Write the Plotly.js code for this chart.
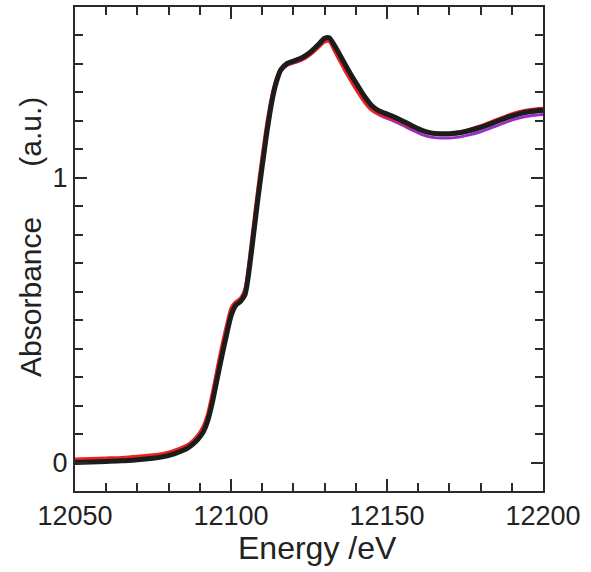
<!DOCTYPE html>
<html>
<head>
<meta charset="utf-8">
<script src="https://cdn.plot.ly/plotly-3.0.1.min.js"></script>
<style>html,body{margin:0;padding:0;background:#fff;}#chart{width:591px;height:572px;}</style>
</head>
<body>
<div id="chart"></div>
<script>
const energy = [12050,12055,12060,12065,12070,12075,12078,12081,12084,12086,12088,12089.5,12091,12092.5,12094,12095.5,12097,12098.5,12100,12101.5,12103,12104.5,12105.5,12106.5,12107.5,12108.5,12109.5,12110.5,12111.5,12112.5,12113.5,12114.5,12116,12118,12120,12122,12124,12126,12128,12130,12131.5,12133,12135,12137,12139,12141,12143,12145,12147,12149,12152,12155,12158,12161,12164,12167,12170,12173,12176,12180,12184,12188,12192,12196,12200];

const absPurple = [0.003,0.005,0.007,0.009,0.013,0.018,0.023,0.031,0.043,0.053,0.069,0.086,0.109,0.149,0.215,0.295,0.375,0.450,0.519,0.554,0.566,0.593,0.654,0.740,0.830,0.920,1.004,1.083,1.161,1.230,1.288,1.332,1.374,1.395,1.403,1.411,1.423,1.440,1.461,1.484,1.486,1.460,1.421,1.380,1.341,1.305,1.271,1.242,1.224,1.213,1.200,1.185,1.168,1.153,1.143,1.140,1.140,1.143,1.150,1.162,1.178,1.195,1.209,1.218,1.222];

const absBlue = [0.003,0.005,0.007,0.009,0.013,0.018,0.023,0.031,0.043,0.053,0.069,0.086,0.109,0.149,0.215,0.295,0.375,0.450,0.519,0.554,0.567,0.593,0.654,0.741,0.831,0.921,1.006,1.086,1.165,1.235,1.293,1.337,1.380,1.401,1.409,1.417,1.429,1.446,1.467,1.489,1.490,1.466,1.428,1.388,1.350,1.315,1.281,1.253,1.236,1.226,1.213,1.198,1.181,1.166,1.156,1.153,1.153,1.156,1.163,1.175,1.191,1.208,1.222,1.231,1.235];

const absGreen = [0.008,0.010,0.012,0.014,0.018,0.023,0.028,0.036,0.048,0.058,0.074,0.092,0.116,0.158,0.226,0.306,0.386,0.460,0.528,0.558,0.570,0.600,0.664,0.752,0.842,0.932,1.016,1.096,1.173,1.241,1.298,1.340,1.382,1.401,1.408,1.416,1.428,1.445,1.466,1.488,1.489,1.465,1.427,1.386,1.348,1.313,1.279,1.251,1.235,1.225,1.212,1.197,1.180,1.165,1.155,1.152,1.152,1.155,1.162,1.174,1.190,1.207,1.221,1.230,1.234];

const absRed = [0.012,0.014,0.016,0.018,0.022,0.027,0.032,0.040,0.052,0.062,0.080,0.099,0.126,0.172,0.245,0.328,0.408,0.480,0.543,0.565,0.577,0.612,0.685,0.775,0.866,0.956,1.040,1.120,1.196,1.258,1.310,1.349,1.385,1.398,1.404,1.411,1.421,1.437,1.457,1.477,1.478,1.448,1.407,1.366,1.329,1.294,1.262,1.238,1.225,1.217,1.206,1.192,1.177,1.164,1.156,1.154,1.156,1.161,1.169,1.183,1.200,1.217,1.231,1.240,1.244];

const absBlack = [0.000,0.002,0.004,0.006,0.010,0.015,0.020,0.028,0.040,0.050,0.066,0.083,0.105,0.145,0.210,0.290,0.370,0.445,0.515,0.552,0.565,0.590,0.650,0.735,0.825,0.915,1.000,1.080,1.160,1.230,1.290,1.335,1.380,1.402,1.410,1.418,1.430,1.447,1.468,1.490,1.492,1.468,1.430,1.390,1.352,1.317,1.283,1.255,1.238,1.228,1.215,1.200,1.183,1.168,1.158,1.155,1.155,1.158,1.165,1.177,1.193,1.210,1.224,1.233,1.237];

const xTicks = [12050, 12100, 12150, 12200];
const yTicks = [0, 1];
const xTitle = 'Energy /eV';
const yTitle = 'Absorbance\u00a0\u00a0\u00a0\u00a0\u00a0\u00a0(a.u.)';

const FONT = 'Liberation Sans, Arial, Helvetica, sans-serif';
const AX = '#2a2a2a';

function tr(y, color, w) {
  return {x: energy, y: y, type: 'scatter', mode: 'lines',
          line: {color: color, width: w, shape: 'spline', smoothing: 0.6},
          hoverinfo: 'skip', showlegend: false};
}

const data = [
  tr(absPurple, '#9b30c8', 3),
  tr(absBlue, '#2b4aa8', 3),
  tr(absGreen, '#2f8a50', 3),
  tr(absRed, '#ee2020', 3),
  tr(absBlack, '#1c1c1c', 5)
];

const axisCommon = {
  showgrid: false, zeroline: false,
  showline: true, linewidth: 2, linecolor: AX,
  mirror: 'allticks',
  ticks: 'inside', ticklen: 12, tickwidth: 2, tickcolor: AX,
  tickfont: {family: FONT, size: 27, color: '#222'}
};

const layout = {
  width: 591, height: 572,
  margin: {l: 75, r: 48, t: 7, b: 81},
  paper_bgcolor: '#fff', plot_bgcolor: '#fff',
  showlegend: false,
  xaxis: Object.assign({}, axisCommon, {
    range: [12050, 12200],
    tickmode: 'array', tickvals: xTicks, ticktext: xTicks.map(String),
    minor: {ticks: 'inside', ticklen: 8, tickwidth: 2, tickcolor: AX, dtick: 10, tick0: 12050, showgrid: false}
  }),
  yaxis: Object.assign({}, axisCommon, {
    range: [-0.1, 1.6],
    tickmode: 'array', tickvals: yTicks, ticktext: yTicks.map(String),
    minor: {ticks: 'inside', ticklen: 8, tickwidth: 2, tickcolor: AX, dtick: 0.1, tick0: 0, showgrid: false}
  }),
  annotations: [
    {text: xTitle, xref: 'paper', yref: 'paper', x: 0.519, y: -0.118,
     xanchor: 'center', yanchor: 'middle', showarrow: false,
     font: {family: FONT, size: 32, color: '#222'}},
    {text: yTitle, xref: 'paper', yref: 'paper', x: -0.094, y: 0.525,
     xanchor: 'center', yanchor: 'middle', showarrow: false, textangle: -90,
     font: {family: FONT, size: 30, color: '#222'}}
  ]
};

Plotly.newPlot('chart', data, layout, {staticPlot: true, displayModeBar: false});
</script>
</body>
</html>
